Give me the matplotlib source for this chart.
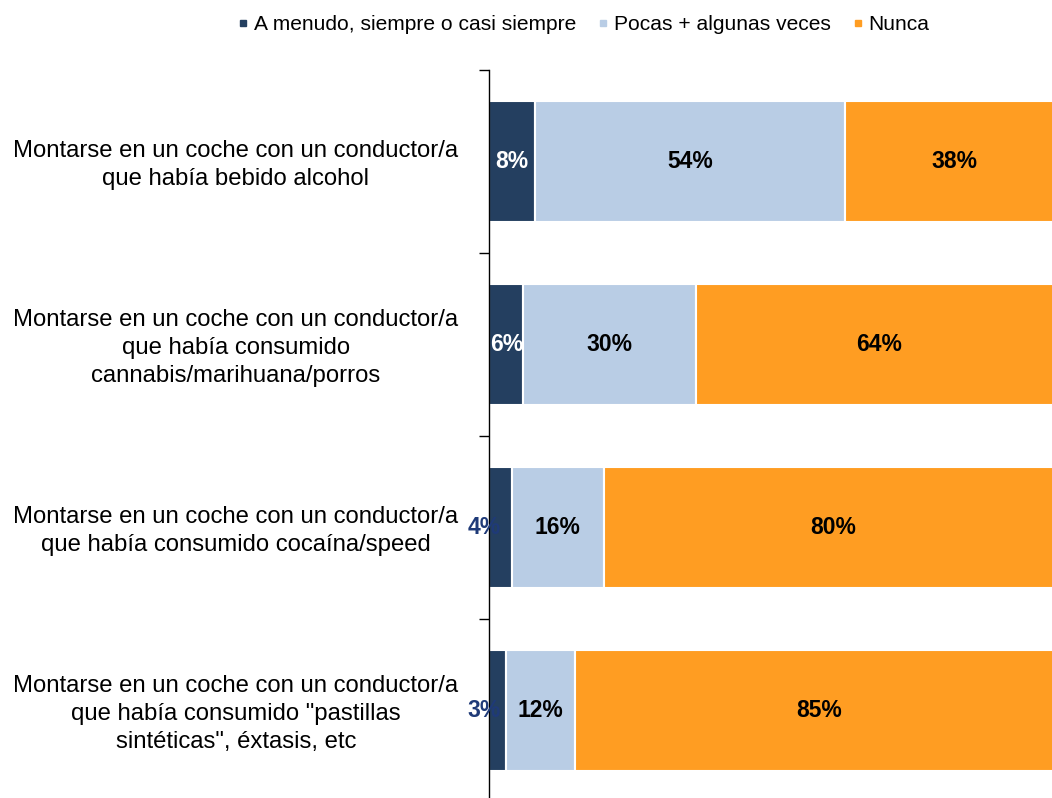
import matplotlib.pyplot as plt
from matplotlib.lines import Line2D
from matplotlib.transforms import blended_transform_factory

plt.rcParams['font.family'] = ['Liberation Sans', 'DejaVu Sans']

categories = [
    'Montarse en un coche con un conductor/a\nque había bebido alcohol',
    'Montarse en un coche con un conductor/a\nque había consumido\ncannabis/marihuana/porros',
    'Montarse en un coche con un conductor/a\nque había consumido cocaína/speed',
    'Montarse en un coche con un conductor/a\nque había consumido "pastillas\nsintéticas", éxtasis, etc',
]
series_names = ['A menudo, siempre o casi siempre', 'Pocas + algunas veces', 'Nunca']
often = [8, 6, 4, 3]
some = [54, 30, 16, 12]
never = [38, 64, 80, 85]

colors = ['#243F60', '#B9CDE5', '#FF9D22']

fig = plt.figure(figsize=(10.52, 7.98), dpi=100)
# axes run slightly past the right edge of the figure
ax = fig.add_axes([489 / 1052, -4 / 798, 574 / 1052, 732 / 798])

y = list(range(len(categories)))
left = [0] * len(categories)
for vals, col in zip([often, some, never], colors):
    ax.barh(y, vals, left=left, height=0.66, color=col, edgecolor='white', linewidth=1.5)
    for i, v in enumerate(vals):
        cx = left[i] + v / 2
        if col == colors[0]:
            if v >= 5:
                ax.text(cx, i, f'{v}%', ha='center', va='center', color='white',
                        fontsize=16.5, fontweight='bold')
            else:
                ax.text(2, i, f'{v}%', ha='right', va='center', color='#1F3A78',
                        fontsize=16.5, fontweight='bold')
        else:
            ax.text(cx, i, f'{v}%', ha='center', va='center', color='black',
                    fontsize=16.5, fontweight='bold')
    left = [l + v for l, v in zip(left, vals)]

ax.set_xlim(0, 100)
ax.set_ylim(len(categories) - 0.5, -0.5)
ax.set_yticks([i - 0.5 for i in range(len(categories) + 1)])
ax.set_yticklabels([])
ax.tick_params(axis='y', length=7, width=1, direction='out')
ax.set_xticks([])
for s in ['top', 'right', 'bottom']:
    ax.spines[s].set_visible(False)
ax.spines['left'].set_linewidth(1)

# category labels, centred in the left margin
label_tr = blended_transform_factory(fig.transFigure, ax.transData)
for i, c in enumerate(categories):
    ax.text(236 / 1052, i + 0.02, c, transform=label_tr, ha='center', va='center',
            fontsize=17.2, multialignment='center', linespacing=1.36)

handles = [Line2D([], [], marker='s', linestyle='none', markersize=5, color=c) for c in colors]
fig.legend(handles, series_names, loc='center', bbox_to_anchor=(582 / 1052, 1 - 25 / 798),
           ncol=3, frameon=False, fontsize=15.1, handletextpad=0.1, columnspacing=0.9,
           handlelength=0.8)

fig.savefig('out.png', dpi=100)
